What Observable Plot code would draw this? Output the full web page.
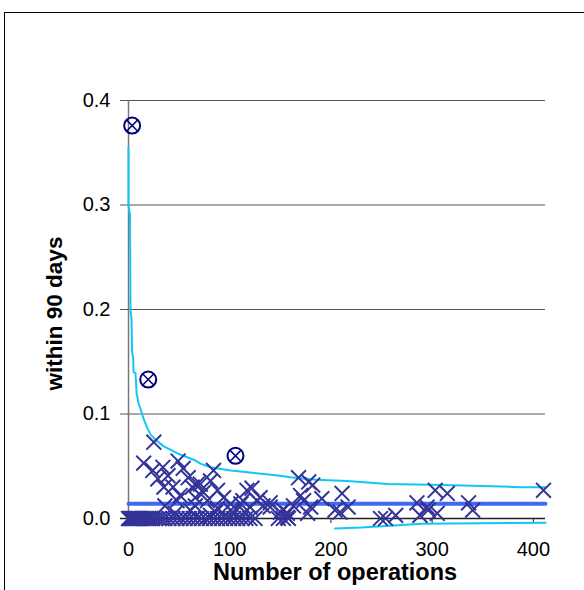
<!DOCTYPE html>
<html>
<head>
<meta charset="utf-8">
<script src="https://cdn.jsdelivr.net/npm/d3@7"></script>
<script src="https://cdn.jsdelivr.net/npm/@observablehq/plot@0.6"></script>
<style>
  html, body { margin: 0; padding: 0; background: #fff; }
  #wrap { position: relative; width: 584px; height: 590px; overflow: hidden; }
  #border { position: absolute; left: 4px; top: 12px; width: 590px; height: 600px;
            border-left: 1.5px solid #000; border-top: 1.5px solid #000; }
  #wrap svg { position: absolute; left: 0; top: 0; }
</style>
</head>
<body>
<div id="wrap"><div id="border"></div></div>
<script>
// Zero-rate hospitals (x = number of operations)
const zeroOps = [0,1,2,3,4,5,6,7,8,9,10,11,12,14,16,18,20,22,24,27,30,33,36,40,44,48,52,56,60,64,68,72,76,80,84,88,92,96,100,104,108,112,116,120,125,148,153,158,249,254];
// Non-zero hospitals
const opsX = [25,15,24,34,29,39,49,54,35,44,59,51,63,48,71,74,84,81,88,66,78,94,101,117,122,113,127,133,140,153,88,81,68,66,130,111,104,120,140,150,157,168,178,182,170,163,173,191,180,177,157,211,204,217,209,264,285,288,295,296,305,303,315,336,340,410,101,115,86,61,46,36];
const rateY = [0.073,0.053,0.046,0.049,0.038,0.041,0.055,0.048,0.030,0.030,0.039,0.022,0.030,0.017,0.033,0.025,0.046,0.036,0.027,0.012,0.017,0.020,0.014,0.027,0.029,0.017,0.017,0.012,0.015,0.008,0.010,0.003,0.033,0.020,0.020,0.014,0.005,0.011,0.011,0.006,0.001,0.039,0.035,0.032,0.022,0.012,0.017,0.019,0.011,0.005,0.005,0.024,0.008,0.011,0.006,0.003,0.015,0.003,0.011,0.008,0.005,0.027,0.024,0.015,0.008,0.027,0.008,0.006,0.006,0.008,0.005,0.012];
// Outliers (circled)
const outX = [3.6, 19.5, 105.7];
const outY = [0.376, 0.133, 0.060];
// Mean rate
const meanX = [0, 412];
const meanRate = 0.014;
// Upper control limit
const upX = [0,0,1.5,2,3,3.5,4.6,5,6.9,8,10,13.5,15,18.4,22,27,35,49,65,71,81,101,120,150,160,185,216,256,311,350,387,412];
const upY = [0.355,0.30,0.29,0.2,0.19,0.16,0.154,0.14,0.139,0.12,0.11,0.100,0.095,0.087,0.08,0.075,0.069,0.062,0.056,0.0525,0.049,0.046,0.044,0.041,0.0395,0.037,0.036,0.033,0.032,0.031,0.030,0.030];
// Lower control limit
const loX = [204,230,290,412];
const loY = [-0.0096,-0.0086,-0.005,-0.004];
const yTicks = [0,0.1,0.2,0.3,0.4];
const xTicks = [0,100,200,300,400];

const pts = [
  ...zeroOps.map(x => ({x, y: 0})),
  ...opsX.map((x, i) => ({x, y: rateY[i]}))
];
const outliers = outX.map((x, i) => ({x, y: outY[i]}));
const upper = upX.map((x, i) => ({x, y: upY[i]}));
const lower = loX.map((x, i) => ({x, y: loY[i]}));
const mean = meanX.map(x => ({x, y: meanRate}));

const chart = Plot.plot({
  width: 584,
  height: 590,
  marginLeft: 128,
  marginRight: 39,
  marginTop: 100,
  marginBottom: 72,
  style: {fontFamily: "'Liberation Sans', Arial, sans-serif", fontSize: "20px", color: "#000", background: "transparent"},
  x: {domain: [0, 412]},
  y: {domain: [0, 0.4]},
  marks: [
    Plot.ruleY(yTicks.filter(d => d > 0), {stroke: "#555", strokeWidth: 1}),
    Plot.ruleX([0], {y1: 0, y2: 0.4, stroke: "#777", strokeWidth: 1.5}),
    Plot.axisY({ticks: yTicks, tickFormat: d3.format(".1f"), tickSize: 8, tickPadding: 10, fontSize: 20, label: null, stroke: "#555"}),
    Plot.axisX({ticks: xTicks, tickSize: 5, tickPadding: 18, fontSize: 20, label: null, stroke: "#222"}),
    Plot.ruleY([0], {x1: -8/1.0125, x2: 412, stroke: "#222", strokeWidth: 1.5}),
    Plot.line(upper, {x: "x", y: "y", stroke: "#11c8f5", strokeWidth: 2}),
    Plot.line(lower, {x: "x", y: "y", stroke: "#11c8f5", strokeWidth: 2}),
    Plot.line(mean, {x: "x", y: "y", stroke: "#3c6af0", strokeWidth: 4}),
    Plot.dot(pts, {x: "x", y: "y", symbol: "times", r: 6.8, stroke: "#333399", strokeWidth: 2}),
    Plot.dot(outliers, {x: "x", y: "y", symbol: "circle", r: 8, stroke: "#000080", strokeWidth: 2, fill: "none"}),
    Plot.dot(outliers, {x: "x", y: "y", symbol: "times", r: 5, stroke: "#000080", strokeWidth: 1.5}),
    Plot.text(["within 90 days"], {frameAnchor: "left", textAnchor: "middle", lineAnchor: "middle", dx: -74, dy: 4, rotate: -90, fontWeight: "bold", fontSize: 22.5, fill: "#000"}),
    Plot.text(["Number of operations"], {frameAnchor: "bottom", textAnchor: "middle", lineAnchor: "middle", dx: -2, dy: 54, fontWeight: "bold", fontSize: 23.5, fill: "#000"})
  ]
});
document.getElementById("wrap").appendChild(chart);
</script>
</body>
</html>
